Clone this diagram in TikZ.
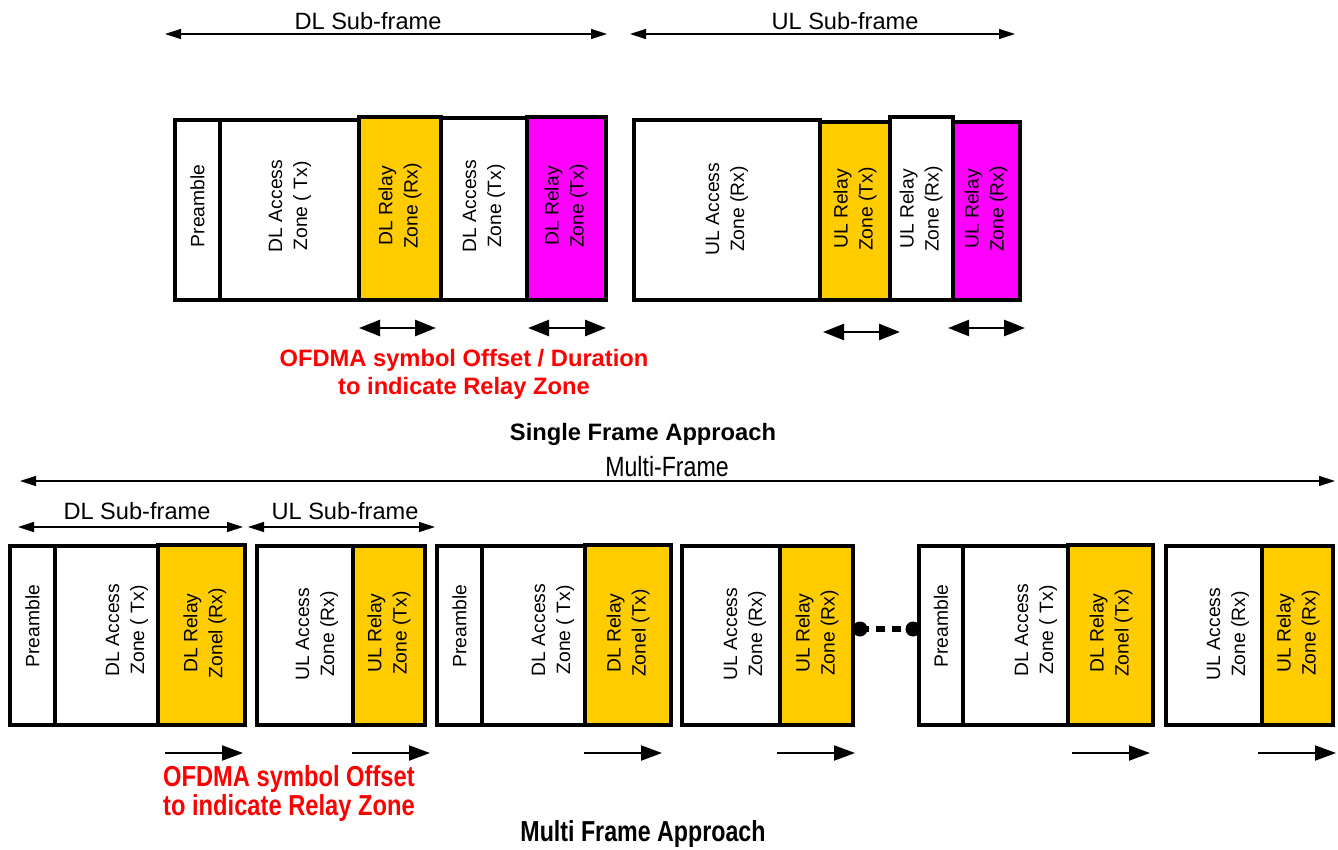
\documentclass[tikz,border=0pt]{standalone}
\usepackage{fontspec}
\setmainfont{Liberation Sans}
\usetikzlibrary{arrows.meta,calc}
\definecolor{zyellow}{HTML}{FFCC00}
\definecolor{zmagenta}{HTML}{FF00FF}
\definecolor{zred}{HTML}{FF0000}
\newcommand\zbox[6]{%
  \node[zonebox, fill=#6, minimum width={(#4-#2)*1pt}, minimum height={(#5-#3)*1pt}, anchor=north west] (#1) at (#2,#3) {};}
\begin{document}
\begin{tikzpicture}[x=1pt,y=-1pt,
  zonebox/.style={draw=black, line width=3.5pt, inner sep=0pt, outer sep=0pt, rectangle},
  zlabel/.style={rotate=90, align=center, inner sep=0pt, font=\fontsize{19.3}{25}\selectfont},
  sublabel/.style={inner sep=0pt, font=\fontsize{23.6}{28}\selectfont},
  redlabel/.style={inner sep=0pt, text=zred, font=\fontsize{23.7}{28}\selectfont\bfseries},
  titlelabel/.style={inner sep=0pt, font=\fontsize{23.7}{28}\selectfont\bfseries},
  subarrow/.style={line width=1.3pt, {Triangle[length=16pt,width=10pt]}-{Triangle[length=16pt,width=10pt]}},
  dimarrow/.style={line width=2.5pt, {Triangle[length=21pt,width=16pt]}-{Triangle[length=21pt,width=16pt]}},
  offarrow/.style={line width=2pt, -{Triangle[length=21pt,width=15pt]}}
]
\useasboundingbox (0,0) rectangle (1338,850);
\fill[white] (0,0) rectangle (1338,850);

% ---------------- Single frame approach ----------------
\coordinate (dlsA) at (165,34); \coordinate (dlsB) at (607,34);
\draw[subarrow] (dlsA) -- (dlsB);
\node[sublabel] (dlsl) at (368,21) {DL Sub-frame};
\coordinate (ulsA) at (630,34); \coordinate (ulsB) at (1015,34);
\draw[subarrow] (ulsA) -- (ulsB);
\node[sublabel] (ulsl) at (845,21) {UL Sub-frame};

\zbox{pre1}{175}{120}{220}{300}{white}
\zbox{dla1}{220}{120}{359}{300}{white}
\zbox{dlr1}{359}{117}{441}{300}{zyellow}
\zbox{dlb1}{441}{118}{527}{300}{white}
\zbox{dlm1}{527}{117}{606}{300}{zmagenta}
\zbox{ula1}{634}{120}{820}{300}{white}
\zbox{ulr1}{820}{122}{890}{300}{zyellow}
\zbox{ulw1}{890}{117}{953}{300}{white}
\zbox{ulm1}{953}{122}{1020}{300}{zmagenta}

\node[zlabel] (pre1t) at (197.5,206) {Preamble};
\node[zlabel] (dla1t) at (290,206) {DL Access\\Zone ( Tx)};
\node[zlabel] (dlr1t) at (400,206) {DL Relay\\Zone (Rx)};
\node[zlabel] (dlb1t) at (484,206) {DL Access\\Zone (Tx)};
\node[zlabel] (dlm1t) at (566,206) {DL Relay\\Zone (Tx)};
\node[zlabel] (ula1t) at (727,209) {UL Access\\Zone (Rx)};
\node[zlabel] (ulr1t) at (855,209) {UL Relay\\Zone (Tx)};
\node[zlabel] (ulw1t) at (921,209) {UL Relay\\Zone (Rx)};
\node[zlabel] (ulm1t) at (986,209) {UL Relay\\Zone (Rx)};

\coordinate (d1a) at (359,328); \coordinate (d1b) at (436,328);
\coordinate (d2a) at (528,328); \coordinate (d2b) at (606,328);
\coordinate (d3a) at (823,332); \coordinate (d3b) at (900,332);
\coordinate (d4a) at (948,328); \coordinate (d4b) at (1025,328);
\draw[dimarrow] (d1a) -- (d1b);
\draw[dimarrow] (d2a) -- (d2b);
\draw[dimarrow] (d3a) -- (d3b);
\draw[dimarrow] (d4a) -- (d4b);

\node[redlabel, align=center] (red1) at (464,374) {OFDMA symbol Offset / Duration\\to indicate Relay Zone};
\node[titlelabel] (title1) at (643,434) {Single Frame Approach};

% ---------------- Multi frame approach ----------------
\coordinate (mfA) at (20,481); \coordinate (mfB) at (1335,481);
\draw[subarrow] (mfA) -- (mfB);
\node[sublabel] (mfl) at (667,467) {\scalebox{0.98}[1.18]{Multi-Frame}};
\coordinate (bdA) at (18,527); \coordinate (bdB) at (243,527);
\draw[subarrow] (bdA) -- (bdB);
\node[sublabel] (bdl) at (137,511) {DL Sub-frame};
\coordinate (buA) at (248,527); \coordinate (buB) at (435,527);
\draw[subarrow] (buA) -- (buB);
\node[sublabel] (bul) at (345,511) {UL Sub-frame};

% frame A
\zbox{preA}{10}{546}{55}{725}{white}
\zbox{dlaA}{55}{546}{158}{725}{white}
\zbox{dlrA}{158}{545}{245}{725}{zyellow}
\zbox{ulaA}{257}{546}{353}{725}{white}
\zbox{ulrA}{353}{546}{425}{725}{zyellow}
% frame B
\zbox{preB}{437}{546}{482}{725}{white}
\zbox{dlaB}{482}{546}{585}{725}{white}
\zbox{dlrB}{585}{545}{671}{725}{zyellow}
\zbox{ulaB}{682}{546}{780}{725}{white}
\zbox{ulrB}{780}{546}{853}{725}{zyellow}
% frame C
\zbox{preC}{919}{546}{963}{725}{white}
\zbox{dlaC}{963}{546}{1068}{725}{white}
\zbox{dlrC}{1068}{545}{1153}{725}{zyellow}
\zbox{ulaC}{1166}{546}{1262}{725}{white}
\zbox{ulrC}{1262}{546}{1333}{725}{zyellow}

\node[zlabel] (preAt) at (32.5,626) {Preamble};
\node[zlabel] (dlaAt) at (127,630) {DL Access\\Zone ( Tx)};
\node[zlabel] (dlrAt) at (205,633) {DL Relay\\Zonel (Rx)};
\node[zlabel] (ulaAt) at (317,634) {UL Access\\Zone (Rx)};
\node[zlabel] (ulrAt) at (389,633) {UL Relay\\Zone (Tx)};

\node[zlabel] (preBt) at (459.5,626) {Preamble};
\node[zlabel] (dlaBt) at (553,630) {DL Access\\Zone ( Tx)};
\node[zlabel] (dlrBt) at (628,633) {DL Relay\\Zonel (Tx)};
\node[zlabel] (ulaBt) at (745,634) {UL Access\\Zone (Rx)};
\node[zlabel] (ulrBt) at (817,633) {UL Relay\\Zone (Rx)};

\node[zlabel] (preCt) at (941,626) {Preamble};
\node[zlabel] (dlaCt) at (1036,630) {DL Access\\Zone ( Tx)};
\node[zlabel] (dlrCt) at (1111,633) {DL Relay\\Zonel (Tx)};
\node[zlabel] (ulaCt) at (1228,634) {UL Access\\Zone (Rx)};
\node[zlabel] (ulrCt) at (1298,633) {UL Relay\\Zone (Rx)};

% continuation dots
\coordinate (dotL) at (860,629); \coordinate (dotR) at (913,629);
\draw[line width=6pt, dash pattern=on 9pt off 7pt] (dotL) -- (dotR);
\fill (dotL) circle (7.5);
\fill (dotR) circle (7.5);

\coordinate (o1a) at (165,753); \coordinate (o1b) at (243,753);
\coordinate (o2a) at (352,753); \coordinate (o2b) at (430,753);
\coordinate (o3a) at (584,753); \coordinate (o3b) at (662,753);
\coordinate (o4a) at (777,753); \coordinate (o4b) at (855,753);
\coordinate (o5a) at (1072,753); \coordinate (o5b) at (1150,753);
\coordinate (o6a) at (1258,753); \coordinate (o6b) at (1336,753);
\draw[offarrow] (o1a) -- (o1b);
\draw[offarrow] (o2a) -- (o2b);
\draw[offarrow] (o3a) -- (o3b);
\draw[offarrow] (o4a) -- (o4b);
\draw[offarrow] (o5a) -- (o5b);
\draw[offarrow] (o6a) -- (o6b);

\node[redlabel, align=left, anchor=west] (red2) at (163,794) {\scalebox{1}[1.22]{OFDMA symbol Offset}\\[1pt]\scalebox{1}[1.22]{to indicate Relay Zone}};
\node[titlelabel] (title2) at (643,834) {\scalebox{0.98}[1.22]{Multi Frame Approach}};
\end{tikzpicture}
\end{document}
